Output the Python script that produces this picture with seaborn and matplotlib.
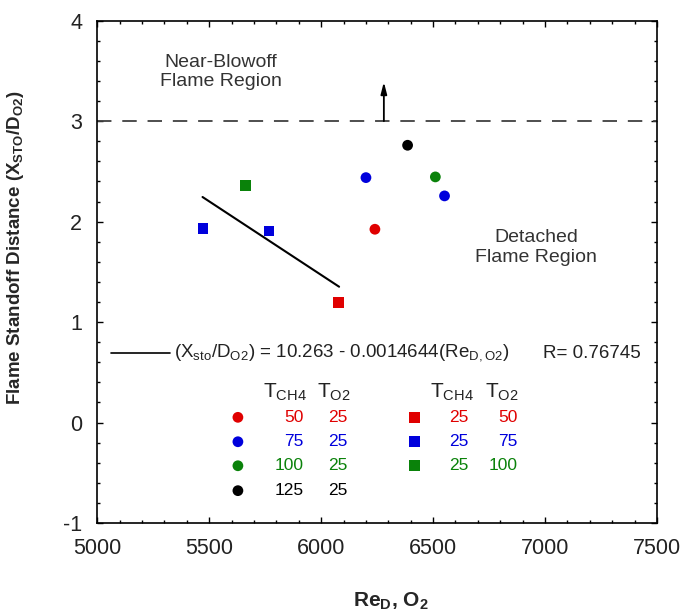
import matplotlib
matplotlib.use("Agg")
import seaborn as sns
import matplotlib.pyplot as plt
import pandas as pd
import numpy as np
from matplotlib.ticker import MultipleLocator

# measured points (Re_D,O2 vs X_sto/D_O2)
re_d = [6240, 6200, 6551, 6510, 6386, 6076, 5472, 5767, 5661]
x_sto = [1.924, 2.438, 2.256, 2.445, 2.76, 1.194, 1.93, 1.907, 2.358]
t_ch4 = [50, 75, 75, 100, 125, 25, 25, 25, 25]
t_o2 = [25, 25, 25, 25, 25, 50, 75, 75, 100]

# linear fit segment as drawn
fit_x = [5470, 6080]
fit_y = [2.245, 1.352]

# legend table rows
leg_circ_ch4 = [50, 75, 100, 125]
leg_circ_o2 = [25, 25, 25, 25]
leg_sq_ch4 = [25, 25, 25]
leg_sq_o2 = [50, 75, 100]

RED, BLUE, GREEN, BLACK = "#e00000", "#0000dc", "#0a820a", "#000000"
palette = {"50/25": RED, "75/25": BLUE, "100/25": GREEN, "125/25": BLACK,
           "25/50": RED, "25/75": BLUE, "25/100": GREEN}

df = pd.DataFrame({"re": re_d, "x": x_sto, "ch4": t_ch4, "o2": t_o2})
df["group"] = df["ch4"].astype(str) + "/" + df["o2"].astype(str)
df["shape"] = np.where(df["ch4"] > df["o2"], "circle", "square")

sns.set_style("ticks")
plt.rcParams["font.family"] = ["Liberation Sans", "DejaVu Sans"]
plt.rcParams["mathtext.fontset"] = "custom"
plt.rcParams["mathtext.rm"] = "Liberation Sans"
plt.rcParams["mathtext.bf"] = "Liberation Sans:bold"
plt.rcParams["axes.unicode_minus"] = False

fig = plt.figure(figsize=(6.82, 6.12), dpi=100)
ax = fig.add_axes([0.1427, 0.1454, 0.8206, 0.8208])

sns.scatterplot(data=df, x="re", y="x", hue="group", style="shape",
                palette=palette, markers={"circle": "o", "square": "s"},
                s=60, edgecolor="none", legend=False, ax=ax)
sns.lineplot(x=fit_x, y=fit_y, color="k", lw=1.5, ax=ax)

ax.axhline(3, color="#404040", lw=1.3, dashes=(8, 6))
ax.annotate("", xy=(6280, 3.39), xytext=(6280, 3.0),
            arrowprops=dict(arrowstyle="-|>,head_length=0.7,head_width=0.18",
                            color="k", lw=1.3, shrinkA=0, shrinkB=0))

ax.text(5552, 3.49, "Near-Blowoff\nFlame Region", ha="center", va="center",
        fontsize=14, color="#333333", linespacing=1.2)
ax.text(6959, 1.745, "Detached\nFlame Region", ha="center", va="center",
        fontsize=14, color="#333333", linespacing=1.25)

# fit legend line
ax.plot([5062, 5325], [0.69, 0.69], color="k", lw=1.2)
ax.text(5343, 0.69, r"(X$_{\mathregular{sto}}$/D$_{\mathregular{O2}}$) = 10.263 - 0.0014644(Re$_{\mathregular{D,O2}}$)",
        ha="left", va="center", fontsize=13.5, color="#222222")
ax.text(7429, 0.69, "R= 0.76745", ha="right", va="center", fontsize=13.5,
        color="#222222")

# legend table
row_y = [0.052, -0.191, -0.430, -0.678]
hdr = r"T$_{\mathregular{CH4}}$"
hdr2 = r"T$_{\mathregular{O2}}$"
for x0 in (5740, 6484):
    ax.text(x0, 0.307, hdr, ha="left", va="center", fontsize=15, color="#222222")
for x0 in (5980, 6732):
    ax.text(x0, 0.307, hdr2, ha="left", va="center", fontsize=15, color="#222222")

circ_cols = [RED, BLUE, GREEN, BLACK]
for i, (a, b) in enumerate(zip(leg_circ_ch4, leg_circ_o2)):
    c = circ_cols[i]
    ax.scatter([5628], [row_y[i]], marker="o", s=60, color=c, edgecolor="none")
    ax.text(5922, row_y[i], str(a), ha="right", va="center", fontsize=12.5, color=c)
    ax.text(6117, row_y[i], str(b), ha="right", va="center", fontsize=12.5, color=c)

sq_cols = [RED, BLUE, GREEN]
for i, (a, b) in enumerate(zip(leg_sq_ch4, leg_sq_o2)):
    c = sq_cols[i]
    ax.scatter([6418], [row_y[i]], marker="s", s=60, color=c, edgecolor="none")
    ax.text(6660, row_y[i], str(a), ha="right", va="center", fontsize=12.5, color=c)
    ax.text(6878, row_y[i], str(b), ha="right", va="center", fontsize=12.5, color=c)

ax.set_xlim(5000, 7500)
ax.set_ylim(-1, 4)
ax.xaxis.set_major_locator(MultipleLocator(500))
ax.xaxis.set_minor_locator(MultipleLocator(100))
ax.yaxis.set_major_locator(MultipleLocator(1))
ax.yaxis.set_minor_locator(MultipleLocator(0.2))
ax.tick_params(which="both", direction="in", top=True, right=True,
               labelsize=15.5, colors="k", labelcolor="#222222")
ax.tick_params(which="major", length=4.5, width=1, pad=11)
ax.tick_params(which="minor", length=2.5, width=1)
for sp in ax.spines.values():
    sp.set_linewidth(1.2)
    sp.set_color("k")

ax.set_xlabel(r"Re$_{\mathbf{D}}$, O$_{\mathbf{2}}$", fontsize=15,
              fontweight="bold")
ax.set_ylabel(r"Flame Standoff Distance (X$_{\mathbf{STO}}$/D$_{\mathbf{O2}}$)",
              fontsize=13.5, fontweight="bold")
ax.xaxis.set_label_coords(0.525, -0.135)
ax.yaxis.set_label_coords(-0.128, 0.548)

fig.savefig("out.png", dpi=100)
